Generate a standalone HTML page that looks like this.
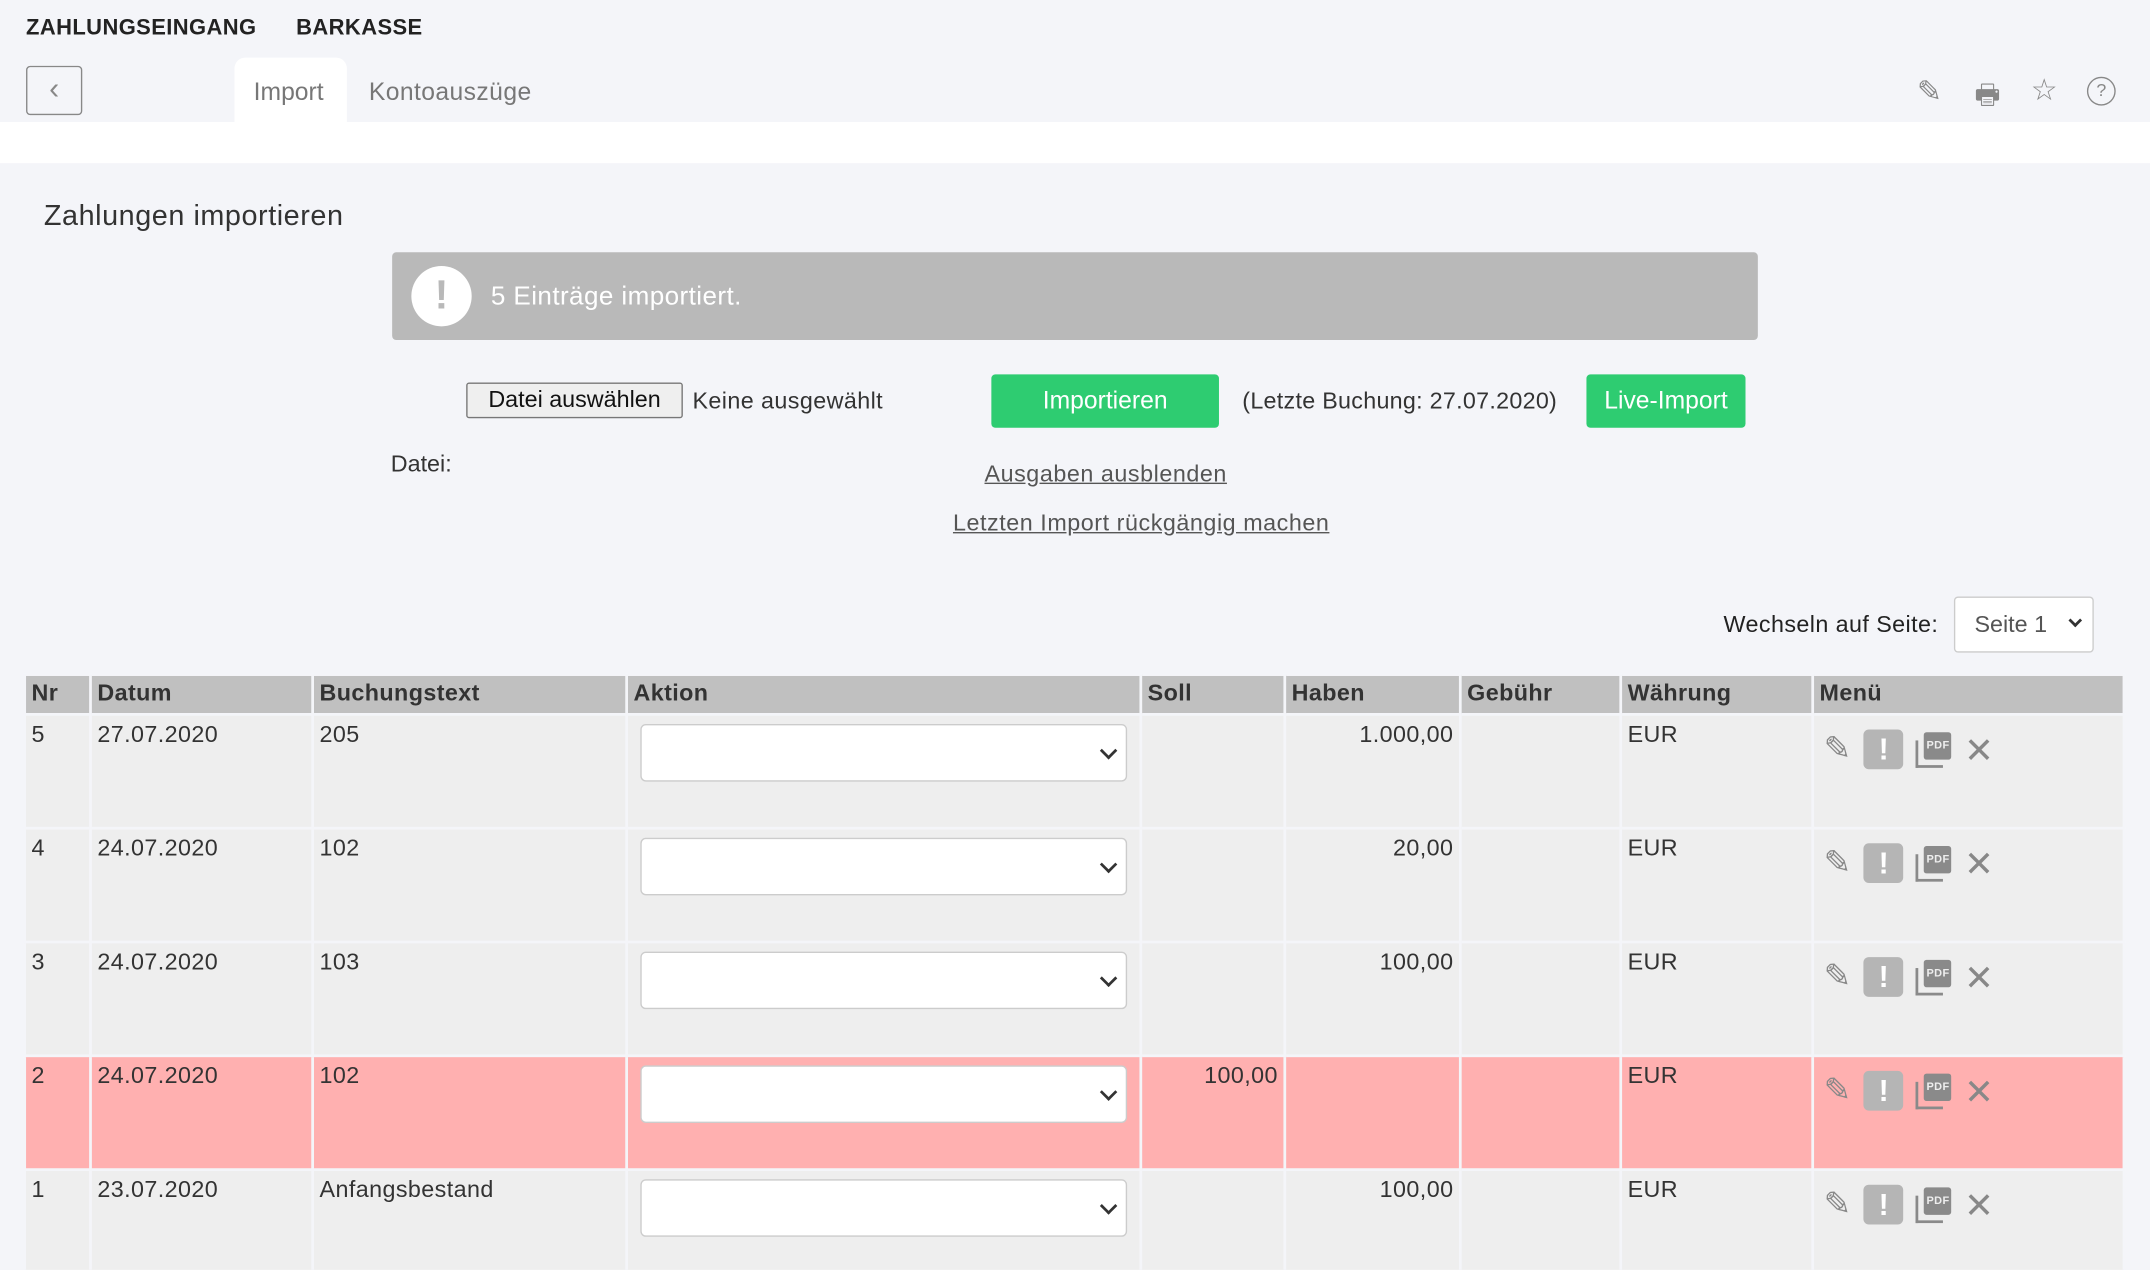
<!DOCTYPE html>
<html><head><meta charset="utf-8"><style>
*{margin:0;padding:0;box-sizing:border-box}
html,body{width:2150px;height:1270px;overflow:hidden;background:#f4f5f9}
#w{position:absolute;left:0;top:0;width:1568px;height:926px;overflow:hidden;transform:scale(1.37117);transform-origin:0 0;font-family:"Liberation Sans",sans-serif;color:#333}
.a{position:absolute;white-space:nowrap}
table{position:absolute;left:17px;top:491px;border-collapse:collapse;width:1533px;font-size:17px;letter-spacing:0.3px}
td,th{border:2px solid #f4f5f9;vertical-align:top;text-align:left;padding:4px 4px 3px}
th{background:#c0c0c0;height:29px;font-weight:bold;padding:3px 4px 2px}
td{background:#eeeeee;height:83px}
tr.r td{background:#ffb0b0}
.sel{width:355px;height:42px;background:#fff;border:1px solid #ccc;border-radius:4px;margin:6px 0 0 5px;position:relative}
.sel:after{content:"";position:absolute;right:8px;top:14px;width:7px;height:7px;border-right:2px solid #333;border-bottom:2px solid #333;transform:rotate(45deg)}
.ic{display:flex;align-items:center;gap:9px;margin:6px 0 0 3px}
.ex{width:29px;height:29px;background:#b5b5b5;border-radius:4px;color:#fff;font-weight:bold;text-align:center;line-height:29px;font-size:22px}
.pdf{width:26px;height:26px;position:relative}
.pdf i{position:absolute;right:0;top:0;width:20px;height:20px;background:#8a8a8a;border-radius:2px;color:#eee;font-size:8px;font-style:normal;font-weight:bold;text-align:center;line-height:20px}
.pdf b{position:absolute;left:0;bottom:0;width:20px;height:20px;border-left:2px solid #8a8a8a;border-bottom:2px solid #8a8a8a}
.x{font-size:26px;color:#888;line-height:26px}
</style></head><body><div id="w">
<div class="a" style="left:19px;top:12px;font-weight:bold;font-size:16px;color:#222;letter-spacing:0.3px">ZAHLUNGSEINGANG</div>
<div class="a" style="left:216px;top:12px;font-weight:bold;font-size:16px;color:#222;letter-spacing:0.3px">BARKASSE</div>
<div class="a" style="left:19px;top:48px;width:41px;height:36px;border:1.5px solid #888;border-radius:3px;text-align:center;line-height:32px;color:#888;font-size:22px">‹</div>
<div class="a" style="left:171px;top:42px;width:82px;height:48px;background:#fff;border-radius:8px 8px 0 0"></div>
<div class="a" style="left:185px;top:57px;font-size:18px;color:#777">Import</div>
<div class="a" style="left:269px;top:57px;font-size:18px;color:#777;letter-spacing:0.3px">Kontoauszüge</div>
<div class="a" style="left:1398px;top:54px;font-size:22px;color:#888">✎</div>
<div class="a" style="left:1440px;top:55px;font-size:20px;color:#888">🖶</div>
<div class="a" style="left:1481px;top:53px;font-size:22px;color:#888">☆</div>
<div class="a" style="left:1522px;top:56px;width:21px;height:21px;border:1.5px solid #888;border-radius:50%;text-align:center;font-size:13px;line-height:18px;color:#888">?</div>
<div class="a" style="left:0;top:89px;width:1568px;height:30px;background:#fff"></div>
<div class="a" style="left:32px;top:146px;font-size:21px;color:#333;letter-spacing:0.4px">Zahlungen importieren</div>
<div class="a" style="left:286px;top:184px;width:996px;height:64px;background:#b9b9b9;border-radius:3px"></div>
<div class="a" style="left:300px;top:194px;width:44px;height:44px;background:#fff;border-radius:50%;text-align:center;line-height:44px;font-size:30px;font-weight:bold;color:#b9b9b9">!</div>
<div class="a" style="left:358px;top:206px;font-size:19px;color:#fff;letter-spacing:0.3px">5 Einträge importiert.</div>
<div class="a" style="left:340px;top:279px;width:158px;height:26px;border:1px solid #777;background:#efefef;border-radius:2px;font-size:17px;text-align:center;line-height:24px;color:#111">Datei auswählen</div>
<div class="a" style="left:505px;top:283px;font-size:17px;letter-spacing:0.3px">Keine ausgewählt</div>
<div class="a" style="left:723px;top:273px;width:166px;height:39px;background:#2ecc71;border-radius:3px;color:#fff;font-size:18px;text-align:center;line-height:39px">Importieren</div>
<div class="a" style="left:906px;top:283px;font-size:17px;letter-spacing:0.2px">(Letzte Buchung: 27.07.2020)</div>
<div class="a" style="left:1157px;top:273px;width:116px;height:39px;background:#2ecc71;border-radius:3px;color:#fff;font-size:18px;text-align:center;line-height:39px">Live-Import</div>
<div class="a" style="left:285px;top:329px;font-size:17px">Datei:</div>
<div class="a" style="left:718px;top:336px;font-size:17px;text-decoration:underline;color:#555;letter-spacing:0.4px">Ausgaben ausblenden</div>
<div class="a" style="left:695px;top:372px;font-size:17px;text-decoration:underline;color:#555;letter-spacing:0.4px">Letzten Import rückgängig machen</div>
<div class="a" style="left:1257px;top:446px;font-size:17px;color:#222;letter-spacing:0.3px">Wechseln auf Seite:</div>
<div class="a" style="left:1425px;top:435px;width:102px;height:41px;background:#fff;border:1px solid #ccc;border-radius:3px;font-size:17px;line-height:39px;padding-left:14px;color:#555">Seite 1<span style="position:absolute;right:9px;top:13px;width:7px;height:7px;border-right:2px solid #333;border-bottom:2px solid #333;transform:rotate(45deg)"></span></div>
<table>
<tr><th style="width:48px">Nr</th><th style="width:162px">Datum</th><th style="width:229px">Buchungstext</th><th style="width:375px">Aktion</th><th style="width:105px">Soll</th><th style="width:128px">Haben</th><th style="width:117px">Gebühr</th><th style="width:140px">Währung</th><th>Menü</th></tr>
<tr><td>5</td><td>27.07.2020</td><td>205</td><td style="padding:0 4px"><div class="sel"></div></td><td></td><td style="text-align:right">1.000,00</td><td></td><td>EUR</td><td><div class="ic"><span style="font-size:24px;color:#888">✎</span><div class="ex">!</div><div class="pdf"><b></b><i>PDF</i></div><span class="x">✕</span></div></td></tr>
<tr><td>4</td><td>24.07.2020</td><td>102</td><td style="padding:0 4px"><div class="sel"></div></td><td></td><td style="text-align:right">20,00</td><td></td><td>EUR</td><td><div class="ic"><span style="font-size:24px;color:#888">✎</span><div class="ex">!</div><div class="pdf"><b></b><i>PDF</i></div><span class="x">✕</span></div></td></tr>
<tr><td>3</td><td>24.07.2020</td><td>103</td><td style="padding:0 4px"><div class="sel"></div></td><td></td><td style="text-align:right">100,00</td><td></td><td>EUR</td><td><div class="ic"><span style="font-size:24px;color:#888">✎</span><div class="ex">!</div><div class="pdf"><b></b><i>PDF</i></div><span class="x">✕</span></div></td></tr>
<tr class="r"><td>2</td><td>24.07.2020</td><td>102</td><td style="padding:0 4px"><div class="sel"></div></td><td style="text-align:right">100,00</td><td></td><td></td><td>EUR</td><td><div class="ic"><span style="font-size:24px;color:#888">✎</span><div class="ex">!</div><div class="pdf"><b></b><i>PDF</i></div><span class="x">✕</span></div></td></tr>
<tr><td>1</td><td>23.07.2020</td><td>Anfangsbestand</td><td style="padding:0 4px"><div class="sel"></div></td><td></td><td style="text-align:right">100,00</td><td></td><td>EUR</td><td><div class="ic"><span style="font-size:24px;color:#888">✎</span><div class="ex">!</div><div class="pdf"><b></b><i>PDF</i></div><span class="x">✕</span></div></td></tr>
</table>
</div></body></html>
